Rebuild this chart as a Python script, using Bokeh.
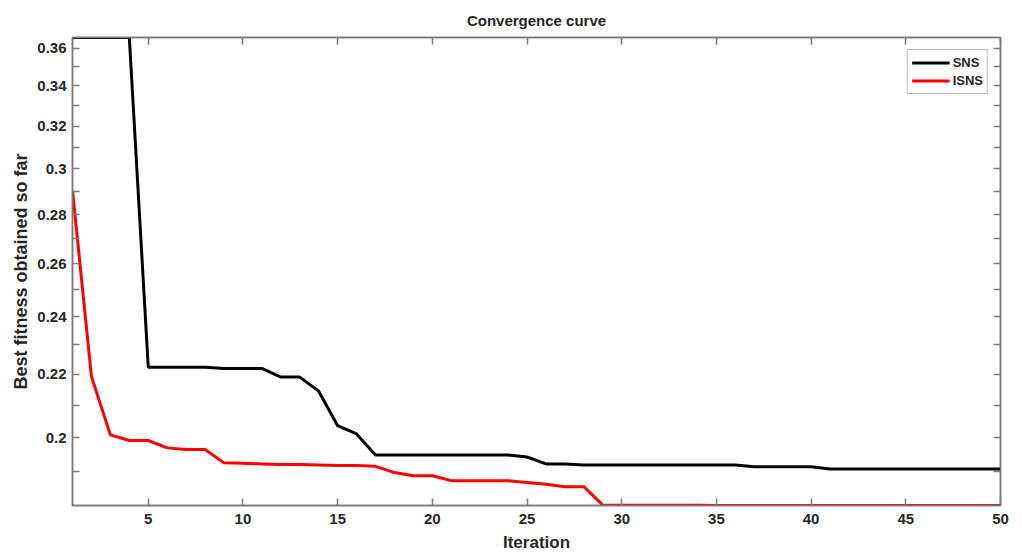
from bokeh.plotting import figure
from bokeh.models import FixedTicker, LinearAxis, LogAxis, Range1d, NumeralTickFormatter
from bokeh.embed import file_html
from bokeh.resources import INLINE

iterations = list(range(1, 51))
sns = [0.3658, 0.3658, 0.3658, 0.3658, 0.2224, 0.2224, 0.2224, 0.2224, 0.2220, 0.2220,
       0.2220, 0.2191, 0.2191, 0.2145, 0.2036, 0.2011, 0.1948, 0.1948, 0.1948, 0.1948,
       0.1948, 0.1948, 0.1948, 0.1948, 0.1942, 0.1922, 0.1922, 0.1919, 0.1919, 0.1919,
       0.1919, 0.1919, 0.1919, 0.1919, 0.1919, 0.1919, 0.1914, 0.1914, 0.1914, 0.1914,
       0.1907, 0.1907, 0.1907, 0.1907, 0.1907, 0.1907, 0.1907, 0.1907, 0.1907, 0.1907]
isns = [0.2904, 0.2193, 0.2008, 0.1991, 0.1991, 0.1969, 0.1964, 0.1964, 0.1925, 0.1924,
        0.1922, 0.1920, 0.1920, 0.1919, 0.1917, 0.1917, 0.1915, 0.1897, 0.1888, 0.1888,
        0.1874, 0.1874, 0.1874, 0.1874, 0.1869, 0.1864, 0.1857, 0.1857, 0.1806, 0.1806,
        0.1806, 0.1806, 0.1806, 0.1806, 0.1805, 0.1805, 0.1805, 0.1805, 0.1805, 0.1805,
        0.1805, 0.1805, 0.1805, 0.1805, 0.1805, 0.1805, 0.1805, 0.1805, 0.1805, 0.1805]
x_ticks = [5, 10, 15, 20, 25, 30, 35, 40, 45, 50]
y_ticks = [0.2, 0.22, 0.24, 0.26, 0.28, 0.3, 0.32, 0.34, 0.36]
y_minor_ticks = [0.19, 0.21, 0.23, 0.25, 0.27, 0.29, 0.31, 0.33, 0.35]

FONT = "Liberation Sans"
AXIS_COLOR = "#7a7a7a"
TEXT_COLOR = "#262626"

p = figure(width=1022, height=554, y_axis_type="log",
           x_range=Range1d(min(iterations), max(iterations)),
           y_range=Range1d(min(isns), max(sns)),
           output_backend="svg", toolbar_location=None,
           title="Convergence curve",
           min_border_left=72, min_border_right=22,
           min_border_top=37, min_border_bottom=49)
p.background_fill_color = "white"
p.border_fill_color = "white"
p.outline_line_color = AXIS_COLOR
p.outline_line_width = 1.5
p.xgrid.visible = False
p.ygrid.visible = False

p.title.align = "center"
p.title.text_font = FONT
p.title.text_font_size = "15px"
p.title.text_font_style = "bold"
p.title.text_color = TEXT_COLOR
p.title.standoff = 17

p.line(iterations, sns, line_color="black", line_width=3, legend_label="SNS")
p.line(iterations, isns, line_color="#ff0000", line_width=3, legend_label="ISNS")

bottom = p.below[0]
left = p.left[0]
top = LinearAxis(ticker=FixedTicker(ticks=x_ticks, minor_ticks=[]))
right = LogAxis(ticker=FixedTicker(ticks=y_ticks, minor_ticks=y_minor_ticks))
p.add_layout(top, "above")
p.add_layout(right, "right")

bottom.ticker = FixedTicker(ticks=x_ticks, minor_ticks=[])
left.ticker = FixedTicker(ticks=y_ticks, minor_ticks=y_minor_ticks)
left.formatter = NumeralTickFormatter(format="0.[00]")

for ax in [bottom, left, top, right]:
    ax.axis_line_color = AXIS_COLOR
    ax.axis_line_width = 1.5
    ax.major_tick_line_color = AXIS_COLOR
    ax.minor_tick_line_color = AXIS_COLOR
    ax.major_tick_line_width = 1.5
    ax.minor_tick_line_width = 1.5
    ax.major_tick_in = 7
    ax.major_tick_out = 0
    ax.minor_tick_in = 7
    ax.minor_tick_out = 0
    ax.major_label_text_font = FONT
    ax.major_label_text_font_style = "bold"
    ax.major_label_text_font_size = "15px"
    ax.major_label_text_color = TEXT_COLOR
    ax.axis_label_text_font = FONT
    ax.axis_label_text_font_style = "bold"
    ax.axis_label_text_color = TEXT_COLOR

top.major_label_overrides = {t: "" for t in x_ticks}
right.major_label_overrides = {t: "" for t in y_ticks}
top.major_label_standoff = 0
right.major_label_standoff = 0

bottom.axis_label = "Iteration"
bottom.axis_label_text_font_size = "17px"
bottom.axis_label_standoff = 6
bottom.major_label_standoff = 8
left.axis_label = "Best fitness obtained so far"
left.axis_label_text_font_size = "18px"
left.axis_label_standoff = 3
left.major_label_standoff = 6

lg = p.legend[0]
lg.location = "top_right"
lg.margin = 12
lg.padding = 4
lg.spacing = 1
lg.border_line_color = AXIS_COLOR
lg.border_line_width = 1.5
lg.background_fill_color = "white"
lg.background_fill_alpha = 1
lg.label_text_font = FONT
lg.label_text_font_style = "bold"
lg.label_text_font_size = "13px"
lg.label_text_color = TEXT_COLOR
lg.glyph_width = 38
lg.glyph_height = 17
lg.label_height = 17
lg.label_standoff = 3

open("out.html", "w").write(file_html(p, INLINE))
